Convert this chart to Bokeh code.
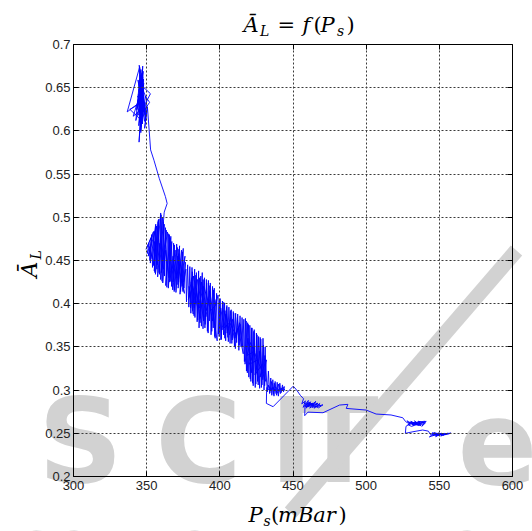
import math
from bokeh.plotting import figure
from bokeh.models import Label, LinearAxis, FixedTicker, CustomJSTickFormatter, Range1d, Arrow, Grid
from bokeh.embed import file_html
from bokeh.resources import INLINE

# Supply pressure P_s (mBar) and mean opening A_L, sample by sample
ps = [
    # start cluster around 345 mBar
    345.5, 346.6, 344.9, 346.1, 347.3, 345.6, 348.0, 343.2,
    346.9, 344.6, 347.6, 343.6, 336.7, 345.2, 346.0, 347.8,
    344.8, 346.5, 349.0, 345.5, 342.6, 348.2, 352.6, 347.0,
    344.1, 348.5, 350.1, 345.8, 343.4, 347.6, 346.2, 349.2,
    352.0, 346.8, 344.6, 348.8, 340.8, 347.2, 349.5, 346.0,
    345.0, 347.4, 346.3, 344.2, 347.9, 345.1, 346.7, 348.3,
    344.0, 346.4, 347.1, 345.3, 348.6, 343.8, 346.9, 345.6,
    347.5, 344.4, 346.1, 347.7, 345.9, 348.1, 344.7, 346.5,
    338.5, 346.0, 347.3, 345.4, 349.8, 346.6,
    350.3, 348.6, 350.5, 352.7, 355.0, 358.6, 362.8, 364.0,
    362.0,
    # band 350-377, first pass
    358.5, 359.6, 356.0, 358.4, 354.5, 356.8, 351.0, 354.6,
    349.6, 353.0, 352.5, 356.2, 355.2, 358.0, 357.5, 360.8,
    359.5, 362.0, 361.0, 363.5, 360.0, 364.2, 363.0, 366.0,
    364.8, 367.2, 366.0, 365.5, 367.8, 369.0, 368.0, 371.0,
    370.0, 372.5, 371.5, 373.8, 372.8, 375.0, 374.2, 376.2,
    373.5, 375.8, 372.0, 370.8, 369.5, 367.5, 368.8, 371.2,
    374.8, 376.5,
    # band 350-377, back and forth
    375.5, 374.5, 373.2, 372.0, 371.8, 370.5, 369.2, 368.4,
    367.0, 366.5, 365.2, 364.8, 363.8, 362.8, 362.2, 361.4,
    360.5, 359.9, 358.8, 357.8, 357.0, 356.4, 355.6, 355.0,
    354.0, 353.4, 352.2, 351.6, 350.4, 352.0, 353.8, 355.5,
    357.2, 359.0, 361.5, 363.0, 365.8, 368.0, 370.2, 373.0,
    375.2, 376.8,
    # band 377-398
    377.2, 378.0, 378.8, 379.5, 380.2, 381.0, 381.5, 382.8,
    383.0, 384.0, 384.5, 385.5, 385.8, 387.0, 386.5, 388.0,
    388.5, 389.5, 390.0, 390.8, 391.5, 392.2, 392.8, 393.5,
    394.0, 395.0, 395.5, 396.2, 396.8, 397.8, 398.2, 393.0,
    391.0, 387.5, 389.0, 384.8, 386.0, 382.0, 383.5, 380.5,
    381.8, 379.0,
    380.0, 381.2, 382.4, 383.6, 384.9, 386.2, 387.4, 388.6,
    389.8, 391.0, 392.0, 393.2, 394.5, 395.6, 396.5, 397.5,
    395.0, 392.5, 390.5, 388.2, 386.5, 384.0, 382.5, 380.8,
    378.5, 381.5, 385.0, 389.0, 393.8, 397.0,
    # band 398-416
    398.8, 399.5, 400.2, 401.0, 401.8, 402.5, 403.2, 404.0,
    404.8, 405.5, 406.2, 407.0, 407.8, 408.5, 409.2, 410.0,
    410.8, 411.5, 412.2, 413.0, 413.8, 414.5, 415.2, 416.0,
    412.5, 409.8, 407.5, 405.0, 403.5, 401.5, 406.8, 410.5,
    414.0,
    413.2, 412.0, 410.6, 409.5, 408.2, 407.2, 405.8, 404.6,
    403.4, 402.2, 400.8, 399.8, 399.0, 400.6, 402.8, 404.2,
    406.5, 408.8, 411.0, 413.5, 415.6, 416.4,
    # band 416-432
    416.8, 417.5, 418.2, 419.0, 419.8, 420.5, 421.2, 422.0,
    422.8, 423.5, 424.2, 425.0, 425.8, 426.5, 427.2, 428.0,
    428.8, 429.5, 430.2, 431.0, 431.5, 421.0, 418.5, 423.8,
    420.2, 426.0, 424.0, 429.0, 427.5, 431.8,
    430.6, 429.8, 428.4, 427.6, 426.2, 425.4, 424.6, 423.2,
    422.4, 421.6, 420.8, 419.6, 418.8, 418.0, 417.2, 419.2,
    421.8, 423.0, 425.6, 427.0, 429.4, 430.8, 432.2,
    # band 432-445
    432.5, 433.2, 434.0, 434.8, 435.5, 436.2, 437.0, 437.8,
    438.5, 439.2, 440.0, 441.0, 441.8, 442.8, 443.5, 444.2,
    440.5, 437.5, 435.0, 433.0,
    434.2, 435.2, 436.6, 437.2, 438.8, 440.2, 441.4, 443.0,
    444.5, 442.0, 439.5, 436.0, 433.8, 432.0,
    # jump to 450 and the cluster near 460
    431.8, 436.4, 450.2, 452.5, 455.0, 457.2,
    456.0, 458.5, 457.0, 460.5, 459.0, 462.0, 460.0, 463.5,
    461.5, 465.5, 463.0, 467.0, 464.5, 468.5, 466.0, 470.5,
    467.5, 462.5, 458.0, 461.0, 464.0, 459.5, 466.5, 462.8,
    469.0, 465.0, 460.2, 457.5, 463.8, 461.2, 458.2,
    # drift towards 525
    458.0, 460.2, 470.5, 481.8, 487.5, 486.4, 500.0, 506.8,
    517.0, 525.0,
    # cluster near 533
    527.0, 530.0, 528.0, 532.5, 530.5, 535.0, 533.0, 537.5,
    535.5, 540.5, 538.0, 541.0, 536.0, 531.0, 528.5, 533.5,
    537.0, 534.0, 539.5, 532.0, 536.5, 529.5, 534.8, 531.5,
    538.8, 540.0, 535.2, 530.2, 527.2,
    526.8, 532.0, 538.6, 542.5,
    # final cluster near 550
    544.0, 547.0, 545.5, 549.5, 547.5, 551.5, 549.0, 553.5,
    551.0, 555.5, 552.5, 558.0, 550.0, 546.0, 543.2, 548.5,
    545.0, 548.0, 551.2, 546.8, 552.0, 549.2, 554.0, 547.2,
    550.5, 556.5, 558.0,
]

al = [
    0.640, 0.662, 0.676, 0.628, 0.675, 0.614, 0.655, 0.624,
    0.667, 0.606, 0.646, 0.631, 0.622, 0.674, 0.598, 0.660,
    0.587, 0.640, 0.618, 0.665, 0.612, 0.650, 0.643, 0.625,
    0.659, 0.611, 0.636, 0.655, 0.626, 0.669, 0.605, 0.640,
    0.633, 0.620, 0.648, 0.628, 0.617, 0.652, 0.612, 0.645,
    0.622, 0.648, 0.615, 0.642, 0.636, 0.610, 0.657, 0.630,
    0.618, 0.650, 0.608, 0.660, 0.622, 0.640, 0.633, 0.648,
    0.617, 0.629, 0.671, 0.626, 0.600, 0.641, 0.636, 0.612,
    0.625, 0.632, 0.662, 0.628, 0.622, 0.639,
    0.626, 0.603, 0.628, 0.578, 0.566, 0.545, 0.524, 0.516,
    0.506,
    0.436, 0.505, 0.434, 0.498, 0.444, 0.490, 0.455, 0.483,
    0.463, 0.476, 0.447, 0.492, 0.438, 0.497, 0.431, 0.500,
    0.428, 0.492, 0.424, 0.485, 0.436, 0.483, 0.421, 0.476,
    0.418, 0.472, 0.426, 0.480, 0.416, 0.468, 0.425, 0.465,
    0.413, 0.467, 0.418, 0.462, 0.411, 0.464, 0.420, 0.455,
    0.430, 0.412, 0.458, 0.422, 0.462, 0.440, 0.414, 0.455,
    0.414, 0.448,
    0.418, 0.460, 0.414, 0.463, 0.425, 0.469, 0.416, 0.470,
    0.420, 0.478, 0.430, 0.481, 0.419, 0.488, 0.432, 0.495,
    0.426, 0.503, 0.434, 0.495, 0.440, 0.489, 0.436, 0.484,
    0.442, 0.480, 0.450, 0.470, 0.458, 0.466, 0.452, 0.472,
    0.445, 0.470, 0.440, 0.462, 0.425, 0.455, 0.430, 0.448,
    0.425, 0.440,
    0.402, 0.445, 0.396, 0.443, 0.389, 0.442, 0.392, 0.440,
    0.384, 0.436, 0.379, 0.438, 0.372, 0.432, 0.383, 0.436,
    0.371, 0.430, 0.376, 0.428, 0.368, 0.427, 0.380, 0.424,
    0.364, 0.420, 0.372, 0.418, 0.360, 0.412, 0.357, 0.415,
    0.392, 0.425, 0.380, 0.428, 0.395, 0.432, 0.400, 0.425,
    0.388, 0.420,
    0.395, 0.437, 0.386, 0.433, 0.381, 0.430, 0.374, 0.428,
    0.372, 0.424, 0.366, 0.421, 0.368, 0.416, 0.362, 0.405,
    0.380, 0.405, 0.385, 0.412, 0.378, 0.418, 0.395, 0.430,
    0.405, 0.420, 0.395, 0.420, 0.392, 0.398,
    0.410, 0.362, 0.406, 0.359, 0.403, 0.364, 0.401, 0.357,
    0.398, 0.361, 0.396, 0.354, 0.393, 0.358, 0.391, 0.350,
    0.389, 0.355, 0.388, 0.346, 0.386, 0.350, 0.384, 0.342,
    0.372, 0.360, 0.384, 0.366, 0.392, 0.370, 0.378, 0.365,
    0.376,
    0.352, 0.384, 0.348, 0.389, 0.354, 0.392, 0.356, 0.396,
    0.360, 0.402, 0.358, 0.405, 0.365, 0.395, 0.372, 0.388,
    0.364, 0.382, 0.360, 0.378, 0.350, 0.382,
    0.333, 0.383, 0.322, 0.378, 0.315, 0.375, 0.310, 0.372,
    0.305, 0.370, 0.303, 0.366, 0.310, 0.362, 0.302, 0.359,
    0.306, 0.360, 0.300, 0.350, 0.310, 0.355, 0.340, 0.345,
    0.330, 0.335, 0.318, 0.330, 0.315, 0.335,
    0.305, 0.352, 0.303, 0.361, 0.306, 0.364, 0.307, 0.368,
    0.308, 0.372, 0.313, 0.376, 0.320, 0.380, 0.330, 0.360,
    0.320, 0.350, 0.318, 0.345, 0.312, 0.340, 0.305,
    0.298, 0.322, 0.296, 0.314, 0.294, 0.312, 0.293, 0.310,
    0.296, 0.309, 0.293, 0.308, 0.297, 0.306, 0.298, 0.304,
    0.300, 0.304, 0.300, 0.306,
    0.297, 0.310, 0.295, 0.308, 0.294, 0.307, 0.296, 0.303,
    0.300, 0.301, 0.297, 0.303, 0.300, 0.303,
    0.2846, 0.2808, 0.3046, 0.3000, 0.2940, 0.2900,
    0.2840, 0.2875, 0.2800, 0.2880, 0.2790, 0.2865, 0.2805, 0.2850,
    0.2790, 0.2870, 0.2810, 0.2850, 0.2790, 0.2845, 0.2810, 0.2830,
    0.2795, 0.2830, 0.2815, 0.2860, 0.2825, 0.2840, 0.2835, 0.2800,
    0.2820, 0.2855, 0.2822, 0.2850, 0.2842, 0.2808, 0.2812,
    0.2704, 0.2745, 0.2738, 0.2827, 0.2835, 0.2788, 0.2769, 0.2723,
    0.2712, 0.2680,
    0.2635, 0.2605, 0.2645, 0.2590, 0.2640, 0.2600, 0.2645, 0.2585,
    0.2640, 0.2620, 0.2580, 0.2640, 0.2610, 0.2580, 0.2600, 0.2622,
    0.2632, 0.2598, 0.2625, 0.2612, 0.2590, 0.2628, 0.2620, 0.2600,
    0.2605, 0.2640, 0.2628, 0.2615, 0.2580,
    0.2500, 0.2518, 0.2538, 0.2525,
    0.2485, 0.2510, 0.2470, 0.2505, 0.2460, 0.2500, 0.2475, 0.2498,
    0.2468, 0.2500, 0.2478, 0.2502, 0.2490, 0.2495, 0.2458, 0.2492,
    0.2505, 0.2472, 0.2495, 0.2480, 0.2488, 0.2500, 0.2485, 0.2502,
    0.2480, 0.2495, 0.2500,
]

x_ticks = [300, 350, 400, 450, 500, 550, 600]
y_ticks = [0.2, 0.25, 0.3, 0.35, 0.4, 0.45, 0.5, 0.55, 0.6, 0.65, 0.7]
X0, X1 = 300, 600
Y0, Y1 = 0.2, 0.7

# canvas size and where the axes box sits on it (pixels from top-left)
W, H = 532, 531
BOX_L, BOX_R, BOX_T, BOX_B = 73, 512, 44, 476
# Label anchors land about this fraction of the font size above the baseline
BASE_SHIFT = 0.346


def dx(px):
    """canvas pixel column -> data x"""
    return X0 + (px - BOX_L) * (X1 - X0) / (BOX_R - BOX_L)


def dy(py):
    """canvas pixel row -> data y"""
    return Y1 - (py - BOX_T) * (Y1 - Y0) / (BOX_B - BOX_T)


# the frame covers the whole canvas; the axes are pinned around the data box
p = figure(width=W, height=H,
           x_range=Range1d(dx(0), dx(W)), y_range=Range1d(dy(H), dy(0)),
           output_backend="svg", toolbar_location=None, title_location=None,
           min_border=0)
p.background_fill_color = "white"
p.border_fill_color = "white"
p.outline_line_color = None


def style_axis(ax, ticks, loc, bounds, labels=True):
    ax.ticker = FixedTicker(ticks=ticks)
    ax.fixed_location = loc
    ax.bounds = bounds
    ax.major_tick_in = 5
    ax.major_tick_out = 0
    ax.minor_tick_line_color = None
    ax.axis_line_color = "black"
    ax.major_tick_line_color = "black"
    if labels:
        ax.major_label_text_font = "Liberation Sans"
        ax.major_label_text_font_size = "13px"
        ax.major_label_text_color = "#222222"
    else:
        ax.major_label_text_font_size = "0px"


xa = p.xaxis[0]
ya = p.yaxis[0]
style_axis(xa, x_ticks, Y0, (X0, X1))
style_axis(ya, y_ticks, X0, (Y0, Y1))
xa.major_label_standoff = 4
ya.major_label_standoff = 3
ya.formatter = CustomJSTickFormatter(code="return String(parseFloat(tick.toFixed(2)));")

top_ax = LinearAxis()
right_ax = LinearAxis()
style_axis(top_ax, x_ticks, Y1, (X0, X1), labels=False)
style_axis(right_ax, y_ticks, X1, (Y0, Y1), labels=False)
p.add_layout(top_ax, "above")
p.add_layout(right_ax, "right")

# dotted grid, kept inside the axes box
grid_style = dict(grid_line_color="#3a3a3a", grid_line_dash="2 2", grid_line_width=1)
has_cross = "cross_bounds" in Grid.properties()
for g, ticks, cross in ((p.xgrid[0], x_ticks, (Y0, Y1)), (p.ygrid[0], y_ticks, (X0, X1))):
    g.ticker = FixedTicker(ticks=ticks)
    g.level = "glyph"
    if has_cross:
        g.cross_bounds = cross
        for k, v in grid_style.items():
            setattr(g, k, v)
    else:
        g.visible = False
if not has_cross:
    p.segment(x0=x_ticks, y0=[Y0] * len(x_ticks), x1=x_ticks, y1=[Y1] * len(x_ticks),
              line_color="#3a3a3a", line_dash="2 2", line_width=1)
    p.segment(x0=[X0] * len(y_ticks), y0=y_ticks, x1=[X1] * len(y_ticks), y1=y_ticks,
              line_color="#3a3a3a", line_dash="2 2", line_width=1)

# publisher mark in light grey behind the plot
wm = "#d2d2d2"
wm_size = 118
for ch, cx in (("S", 80), ("C", 198), ("I", 291), ("T", 338), ("e", 497)):
    p.add_layout(Label(x=dx(cx), y=dy(481 - BASE_SHIFT * wm_size), text=ch,
                       text_align="center", text_baseline="alphabetic",
                       text_font="DejaVu Sans", text_font_style="bold",
                       text_font_size=f"{wm_size}px", text_color=wm, level="underlay"))
p.add_layout(Arrow(end=None, x_start=dx(290), y_start=dy(512), x_end=dx(516), y_end=dy(250),
                   line_color=wm, line_width=15, level="underlay"))
p.add_layout(Label(x=dx(20), y=dy(521), text="SCIENCE AND TECHNOLOGY", text_align="left",
                   text_baseline="top", text_font="DejaVu Sans", text_font_style="bold",
                   text_font_size="46px", text_color=wm, level="underlay"))

p.line(ps, al, line_color="#0000ff", line_width=0.9)

serif = "DejaVu Serif"


def piece(text, px, py, size, italic=True, angle=0.0):
    """place one run of the math label with its baseline at canvas (px, py)"""
    shift = BASE_SHIFT * size
    if angle:
        px -= shift
    else:
        py -= shift
    p.add_layout(Label(x=dx(px), y=dy(py), text=text, text_align="left",
                       text_baseline="alphabetic", text_font=serif,
                       text_font_style="italic" if italic else "normal",
                       text_font_size=f"{size}px", text_color="black", angle=angle))


# title: A-bar_L = f(P_s)
for t, px, py, sz, it in (("\u0100", 243, 32, 21, True), ("L", 259.5, 35.5, 14, True),
                          ("=", 277, 32, 21, False), ("f", 302, 32, 21, True),
                          ("(", 313, 32, 21, False), ("P", 320, 32, 21, True),
                          ("s", 336.5, 35.5, 14, True), (")", 346, 32, 21, False)):
    piece(t, px, py, sz, it)

# x axis label: P_s(mBar)
for t, px, py, sz, it in (("P", 248, 522, 21, True), ("s", 263, 525.5, 14, True),
                          ("(", 270.5, 522, 21, False), ("mBar", 277.5, 522, 21, True),
                          (")", 338, 522, 21, False)):
    piece(t, px, py, sz, it)

# y axis label: A-bar_L, rotated
piece("\u0100", 37, 277, 22, True, math.pi / 2)
piece("L", 40, 259, 14, True, math.pi / 2)

open("out.html", "w").write(file_html(p, INLINE))
